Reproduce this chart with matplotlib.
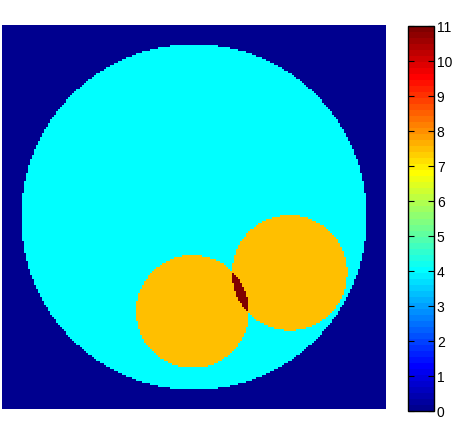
import numpy as np
import matplotlib
matplotlib.use("Agg")
import matplotlib.pyplot as plt
from matplotlib.colors import ListedColormap

# grid size of the image
n = 192

# disks: centre x, centre y, radius (as fraction of image), value added inside
disk_cx = [0.50, 0.496, 0.749]
disk_cy = [0.50, 0.746, 0.645]
disk_r = [0.45, 0.147, 0.150]
disk_add = [4.0, 3.5, 3.5]

cbar_ticks = list(range(0, 12))


def matlab_jet(m=64):
    # follows MATLAB's jet.m
    q = int(np.ceil(m / 4))
    u = np.concatenate([np.arange(1, q + 1) / q, np.ones(q - 1), np.arange(q, 0, -1) / q])
    g = int(np.ceil(q / 2)) - (1 if m % 4 == 1 else 0) + np.arange(1, len(u) + 1)
    r = g + q
    b = g - q
    rgb = np.zeros((m, 3))
    for ch, idx in enumerate([r, g, b]):
        ok = (idx >= 1) & (idx <= m)
        rgb[idx[ok] - 1, ch] = u[ok]
    return ListedColormap(rgb)


yy, xx = np.mgrid[0:n, 0:n]
xx = (xx + 0.5) / n
yy = (yy + 0.5) / n

img = np.zeros((n, n))
for cx, cy, r, v in zip(disk_cx, disk_cy, disk_r, disk_add):
    img[(xx - cx) ** 2 + (yy - cy) ** 2 <= r ** 2] += v

W, H = 453, 439
fig = plt.figure(figsize=(W / 100, H / 100), dpi=100)
ax = fig.add_axes([2 / W, (H - 410) / H, 384 / W, 384 / H])
cmap = matlab_jet(64)
im = ax.imshow(img, cmap=cmap, vmin=0, vmax=11, interpolation="nearest", aspect="auto")
ax.set_axis_off()

cax = fig.add_axes([408 / W, (H - 412) / H, 26 / W, 385 / H])
cb = fig.colorbar(im, cax=cax, ticks=cbar_ticks)
cb.outline.set_linewidth(1.0)
cax.tick_params(direction="in", length=4, width=0.8, labelsize=10, right=True, left=True, pad=2)
for lab in cax.get_yticklabels():
    lab.set_family("Liberation Sans")

fig.savefig("out.png", dpi=100)
